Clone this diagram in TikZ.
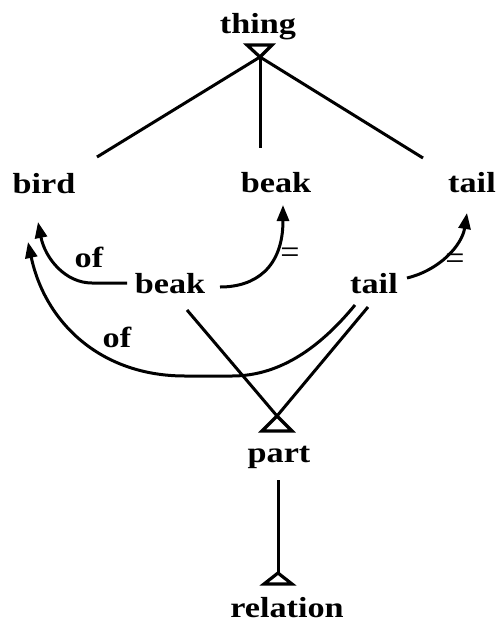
\documentclass[tikz,border=0pt]{standalone}
\usepackage{fontspec}
\usepackage{graphicx}
\setmainfont{Liberation Serif}
\usetikzlibrary{arrows.meta}
\newcommand{\wrdx}[1]{\scalebox{1.18}[1]{\bfseries #1}}
\begin{document}
\begin{tikzpicture}[x=1pt,y=-1pt,
  lbl/.style={anchor=base,inner sep=0pt,font=\fontsize{29}{30}\selectfont},
  eqlbl/.style={inner sep=0pt,font=\fontsize{34}{36}\selectfont},
  ln/.style={line width=3pt},
  arr/.style={line width=3pt,-{Triangle[length=16pt,width=12pt]}},
  tri/.style={line width=3.2pt,fill=white,line join=miter}]
\useasboundingbox (0,0) rectangle (498,622);
% words
\node[lbl] (thing) at (258,33) {\wrdx{thing}};
\node[lbl] (bird) at (44,193) {\wrdx{bird}};
\node[lbl] (beakT) at (276,192) {\wrdx{beak}};
\node[lbl] (tailT) at (472,192) {\wrdx{tail}};
\node[lbl] (beakM) at (170,293) {\wrdx{beak}};
\node[lbl] (tailM) at (374,293) {\wrdx{tail}};
\node[lbl] (part) at (279,462) {\wrdx{part}};
\node[lbl] (relation) at (287,617) {\wrdx{relation}};
\node[lbl] (of1) at (89,267) {\wrdx{of}};
\node[lbl] (of2) at (117,347) {\wrdx{of}};
\node[eqlbl] (eq1) at (290,256) {=};
\node[eqlbl] (eq2) at (455,262) {=};
% anchor points
\coordinate (thA) at (260,57);
\coordinate (thL) at (247,45);
\coordinate (thR) at (272,45);
\coordinate (birdE) at (97,157);
\coordinate (beakE) at (260,148);
\coordinate (tailE) at (423,158);
\coordinate (ptA) at (277,416);
\coordinate (ptL) at (262,431);
\coordinate (ptR) at (292,431);
\coordinate (rlA) at (278,573);
\coordinate (rlL) at (264,584);
\coordinate (rlR) at (292,584);
\coordinate (partB) at (278,480);
\coordinate (bmS) at (187,310);
\coordinate (tmS) at (368,307);
\coordinate (tmC) at (355,305);
\coordinate (bmL) at (127,283);
\coordinate (bmR) at (220,287);
\coordinate (tmR) at (407,278);
\coordinate (birdT1) at (38,222);
\coordinate (birdT2) at (28,242);
\coordinate (beakTip) at (283,205);
\coordinate (tailTip) at (467,213);
% thing hierarchy
\draw[ln] (thA) -- (birdE);
\draw[ln] (thA) -- (beakE);
\draw[ln] (thA) -- (tailE);
\draw[tri] (thL) -- (thR) -- (thA) -- cycle;
% part
\draw[ln] (bmS) -- (ptA);
\draw[ln] (tmS) -- (ptA);
\draw[tri] (ptL) -- (ptR) -- (ptA) -- cycle;
\draw[ln] (partB) -- (rlA);
\draw[tri] (rlL) -- (rlR) -- (rlA) -- cycle;
% of arrows
\draw[arr] (bmL) -- (92,283) .. controls (65,283) and (45,258) .. (birdT1);
\draw[arr] (tmC) .. controls (322,345) and (282,376) .. (232,376) -- (185,376) .. controls (100,376) and (45,322) .. (birdT2);
% = arrows
\draw[arr] (bmR) .. controls (255,287) and (283,268) .. (beakTip);
\draw[arr] (tmR) .. controls (440,270) and (462,245) .. (tailTip);
\end{tikzpicture}
\end{document}
